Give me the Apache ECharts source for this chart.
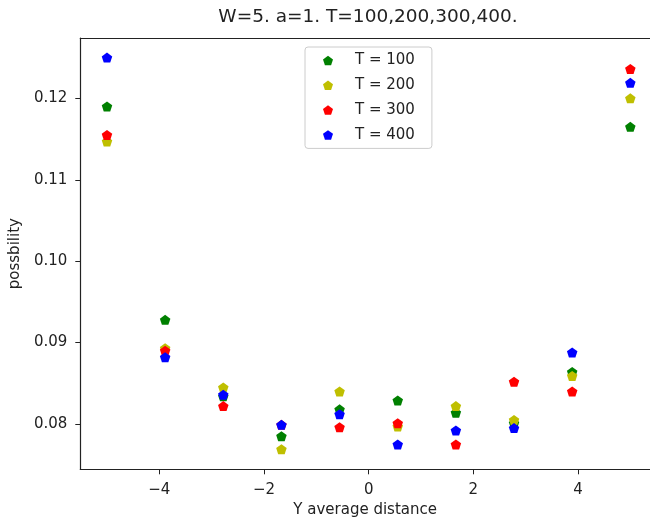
<!DOCTYPE html>
<html>
<head>
<meta charset="utf-8">
<script src="https://cdn.jsdelivr.net/npm/echarts@6/dist/echarts.min.js"></script>
<style>html,body{margin:0;padding:0;background:#fff;}#c{width:650px;height:523px;}</style>
</head>
<body>
<div id="c"></div>
<script>
const xValues = [-5, -3.8889, -2.7778, -1.6667, -0.5556, 0.5556, 1.6667, 2.7778, 3.8889, 5];
const seriesNames = ['T = 100', 'T = 200', 'T = 300', 'T = 400'];
const t100 = [0.1190, 0.0928, 0.0834, 0.0785, 0.0818, 0.0829, 0.0814, 0.0801, 0.0864, 0.1165];
const t200 = [0.1147, 0.0893, 0.0845, 0.0769, 0.0840, 0.0797, 0.0822, 0.0805, 0.0859, 0.1200];
const t300 = [0.1155, 0.0890, 0.0822, 0.0799, 0.0796, 0.0801, 0.0775, 0.0852, 0.0840, 0.1236];
const t400 = [0.1250, 0.0882, 0.0836, 0.0799, 0.0812, 0.0775, 0.0792, 0.0795, 0.0888, 0.1219];
const xTicks = [-4, -2, 0, 2, 4];
const yTicks = [0.08, 0.09, 0.10, 0.11, 0.12];
const colors = ['#008000', '#bfbf00', '#ff0000', '#0000ff'];

const pentagon = 'path://M0,-1L0.951,-0.309L0.588,0.809L-0.588,0.809L-0.951,-0.309Z';
const font = 'DejaVu Sans';
const allData = [t100, t200, t300, t400];
const axisColor = '#222';

const chart = echarts.init(document.getElementById('c'), null, {renderer: 'canvas'});
chart.setOption({
  animation: false,
  backgroundColor: '#fff',
  title: {
    text: 'W=5. a=1. T=100,200,300,400.',
    left: 368, top: 8, textAlign: 'center', padding: 0,
    textStyle: {fontFamily: font, fontSize: 18.5, fontWeight: 'normal', color: axisColor}
  },
  legend: {
    orient: 'vertical', left: 305, top: 47,
    padding: [6, 17, 6, 18],
    itemWidth: 10, itemHeight: 10, itemGap: 9.8,
    backgroundColor: 'rgba(255,255,255,0.8)',
    borderColor: '#cccccc', borderWidth: 1, borderRadius: 3,
    textStyle: {fontFamily: font, fontSize: 15, color: axisColor, lineHeight: 14, padding: [0, 0, 0, 17]},
    data: seriesNames.map((n) => ({name: n, icon: pentagon}))
  },
  grid: {left: 79.5, top: 38, right: 0, height: 431.3, containLabel: false},
  xAxis: [{
    type: 'value', min: -5.51, max: 5.376,
    name: 'Y average distance', nameLocation: 'middle', nameGap: 33,
    nameTextStyle: {fontFamily: font, fontSize: 15, color: axisColor},
    axisLine: {show: true, onZero: false, lineStyle: {color: axisColor, width: 1.2}},
    axisTick: {show: true, length: 5, customValues: xTicks, lineStyle: {color: axisColor}},
    axisLabel: {customValues: xTicks, margin: 13, fontFamily: font, fontSize: 15, color: axisColor,
      formatter: (v) => (v < 0 ? '\u2212' + Math.abs(v) : String(v))},
    splitLine: {show: false}
  }, {
    type: 'value', position: 'top', min: -5.51, max: 5.376,
    axisLine: {show: true, onZero: false, lineStyle: {color: axisColor, width: 1.2}},
    axisTick: {show: false}, axisLabel: {show: false}, splitLine: {show: false}
  }],
  yAxis: {
    type: 'value', min: 0.07444, max: 0.12741,
    name: 'possbility', nameLocation: 'middle', nameGap: 47,
    nameTextStyle: {fontFamily: font, fontSize: 15, color: axisColor},
    axisLine: {show: true, onZero: false, lineStyle: {color: axisColor, width: 1.2}},
    axisTick: {show: true, length: 5, customValues: yTicks, lineStyle: {color: axisColor}},
    axisLabel: {customValues: yTicks, margin: 13, fontFamily: font, fontSize: 15, color: axisColor,
      formatter: (v) => v.toFixed(2)},
    splitLine: {show: false}
  },
  series: seriesNames.map((n, i) => ({
    name: n, type: 'scatter', xAxisIndex: 0,
    symbol: pentagon, symbolSize: [10.5, 10],
    itemStyle: {color: colors[i], opacity: 1},
    data: xValues.map((x, j) => [x, allData[i][j]])
  }))
});
</script>
</body>
</html>
